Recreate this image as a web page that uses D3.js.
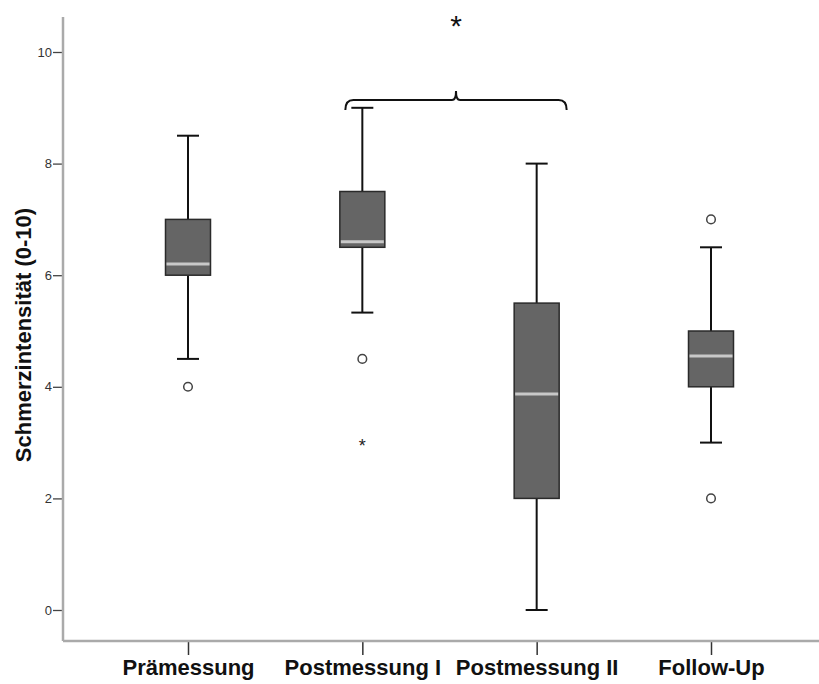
<!DOCTYPE html>
<html>
<head>
<meta charset="utf-8">
<script src="https://cdn.jsdelivr.net/npm/d3@7"></script>
<style>
  body { margin: 0; background: #fff; }
  text { font-family: "Liberation Sans", Arial, sans-serif; }
</style>
</head>
<body>
<div id="chart"></div>
<script>
// data
const groups = ["Prämessung", "Postmessung I", "Postmessung II", "Follow-Up"];
const q1 = [6, 6.5, 2, 4];
const medians = [6.2, 6.6, 3.87, 4.55];
const q3 = [7, 7.5, 5.5, 5];
const whiskerLow = [4.5, 5.33, 0, 3];
const whiskerHigh = [8.5, 9, 8, 6.5];
const outliers = [[4], [4.5], [], [7, 2]];
const extremes = [[], [3], [], []];
const yTicks = [0, 2, 4, 6, 8, 10];

const width = 819, height = 684;
const margin = { top: 17, right: 0, bottom: 43, left: 63 };

const svg = d3.select("#chart").append("svg")
  .attr("width", width)
  .attr("height", height);

const y = d3.scaleLinear().domain([0, 10]).range([610, 52]);
const x = d3.scalePoint().domain(groups).range([188, 711]);

// y axis
const yAxis = svg.append("g")
  .attr("transform", `translate(${margin.left},0)`)
  .call(d3.axisLeft(y).tickValues(yTicks).tickSize(10).tickPadding(1));
yAxis.select(".domain").remove();
yAxis.selectAll(".tick line").attr("stroke", "#444").attr("stroke-width", 1.3);
yAxis.selectAll(".tick text").style("font-size", "13px").attr("fill", "#333");

// x axis
const xAxis = svg.append("g")
  .attr("transform", `translate(0,${height - margin.bottom})`)
  .call(d3.axisBottom(x).tickSize(14).tickPadding(4));
xAxis.select(".domain").remove();
xAxis.selectAll(".tick line").attr("stroke", "#333").attr("stroke-width", 1.5);
xAxis.selectAll(".tick text")
  .style("font-size", "22px")
  .style("font-weight", "bold")
  .attr("fill", "#111");

// axis frame lines
svg.append("line")
  .attr("x1", margin.left).attr("x2", margin.left)
  .attr("y1", margin.top).attr("y2", height - margin.bottom)
  .attr("stroke", "#aaa").attr("stroke-width", 2.5);
svg.append("line")
  .attr("x1", margin.left).attr("x2", width)
  .attr("y1", height - margin.bottom).attr("y2", height - margin.bottom)
  .attr("stroke", "#aaa").attr("stroke-width", 2.5);

// y label
svg.append("text")
  .attr("transform", `translate(31,335) rotate(-90)`)
  .attr("text-anchor", "middle")
  .style("font-size", "22px")
  .style("font-weight", "bold")
  .attr("fill", "#111")
  .text("Schmerzintensität (0-10)");

const boxW = 45, capW = 22;
const stats = groups.map((g, i) => ({
  g, q1: q1[i], med: medians[i], q3: q3[i],
  lo: whiskerLow[i], hi: whiskerHigh[i],
  out: outliers[i], ext: extremes[i]
}));

const boxes = svg.append("g").selectAll("g")
  .data(stats)
  .join("g")
  .attr("transform", d => `translate(${x(d.g)},0)`);

// whiskers
boxes.append("line")
  .attr("y1", d => y(d.lo)).attr("y2", d => y(d.q1))
  .attr("stroke", "#111").attr("stroke-width", 2);
boxes.append("line")
  .attr("y1", d => y(d.q3)).attr("y2", d => y(d.hi))
  .attr("stroke", "#111").attr("stroke-width", 2);
boxes.append("line")
  .attr("x1", -capW / 2).attr("x2", capW / 2)
  .attr("y1", d => y(d.lo)).attr("y2", d => y(d.lo))
  .attr("stroke", "#111").attr("stroke-width", 2);
boxes.append("line")
  .attr("x1", -capW / 2).attr("x2", capW / 2)
  .attr("y1", d => y(d.hi)).attr("y2", d => y(d.hi))
  .attr("stroke", "#111").attr("stroke-width", 2);

// boxes
boxes.append("rect")
  .attr("x", -boxW / 2)
  .attr("width", boxW)
  .attr("y", d => y(d.q3))
  .attr("height", d => y(d.q1) - y(d.q3))
  .attr("fill", "#656565")
  .attr("stroke", "#2a2a2a")
  .attr("stroke-width", 1.5);

// medians
boxes.append("line")
  .attr("x1", -boxW / 2 + 1).attr("x2", boxW / 2 - 1)
  .attr("y1", d => y(d.med)).attr("y2", d => y(d.med))
  .attr("stroke", "#c8c8c8").attr("stroke-width", 3);

// outliers
boxes.selectAll(".out")
  .data(d => d.out)
  .join("circle")
  .attr("class", "out")
  .attr("cy", v => y(v))
  .attr("r", 4.3)
  .attr("fill", "#fff")
  .attr("stroke", "#444")
  .attr("stroke-width", 1.5);

// extremes
boxes.selectAll(".ext")
  .data(d => d.ext)
  .join("text")
  .attr("class", "ext")
  .attr("y", v => y(v) + 9)
  .attr("text-anchor", "middle")
  .style("font-size", "18px")
  .attr("fill", "#222")
  .text("*");

// significance bracket between Postmessung I and II
const bx1 = x(groups[1]) - 17, bx2 = x(groups[2]) + 30;
const by = 100, bm = (bx1 + bx2) / 2;
svg.append("path")
  .attr("d", `M${bx1},${by + 10} Q${bx1},${by} ${bx1 + 8},${by} L${bm - 4},${by} Q${bm},${by} ${bm},${by - 9} Q${bm},${by} ${bm + 4},${by} L${bx2 - 8},${by} Q${bx2},${by} ${bx2},${by + 10}`)
  .attr("fill", "none")
  .attr("stroke", "#111")
  .attr("stroke-width", 2);

svg.append("text")
  .attr("x", bm)
  .attr("y", 36)
  .attr("text-anchor", "middle")
  .style("font-size", "30px")
  .attr("fill", "#111")
  .text("*");
</script>
</body>
</html>
